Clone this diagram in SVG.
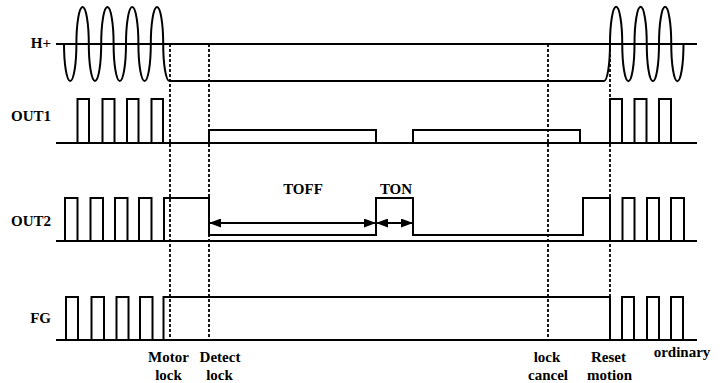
<svg xmlns="http://www.w3.org/2000/svg" width="725" height="383" viewBox="0 0 725 383">
<style>
.sig{fill:none;stroke:#000;stroke-width:2;stroke-linejoin:miter}
.axis{fill:none;stroke:#000;stroke-width:2}
.dash{fill:none;stroke:#000;stroke-width:1.8;stroke-dasharray:3 2}
.arr{fill:none;stroke:#000;stroke-width:2;marker-start:url(#ah);marker-end:url(#ah)}
text{font-family:"Liberation Serif","Times New Roman",serif;font-weight:bold;font-size:15px;fill:#000}
.lbl{text-anchor:end}
.mid{text-anchor:middle}
</style>
<defs>
<marker id="ah" markerUnits="userSpaceOnUse" markerWidth="12" markerHeight="9" refX="12" refY="4.5" orient="auto-start-reverse">
<path d="M0 0 L12 4.5 L0 9 Z" fill="#000"/>
</marker>
</defs>
<rect width="725" height="383" fill="#fff"/>

<g id="dashed-markers">
<line class="dash" x1="170" y1="44" x2="170" y2="340"/>
<line class="dash" x1="209" y1="44" x2="209" y2="340"/>
<line class="dash" x1="548" y1="44" x2="548" y2="340"/>
<line class="dash" x1="610" y1="44" x2="610" y2="340"/>
</g>

<g id="H">
<text class="lbl" x="51" y="47.5">H+</text>
<line class="axis" x1="56" y1="44" x2="697" y2="44"/>
<path class="sig" d="M64 44 A6.2 37 0 0 0 76.4 44 A6.2 37 0 0 1 88.8 44 A6.2 37 0 0 0 101.2 44 A6.2 37 0 0 1 113.6 44 A6.2 37 0 0 0 126 44 A6.2 37 0 0 1 138.4 44 A6.2 37 0 0 0 150.8 44 A6.2 37 0 0 1 163.2 44 A6.2 37 0 0 0 169.4 81 H604 A6 37 0 0 0 610 44 A6.1 37 0 0 1 622.25 44 A6.1 37 0 0 0 634.5 44 A6.1 37 0 0 1 646.75 44 A6.1 37 0 0 0 659 44 A6.1 37 0 0 1 671.25 44 A6.1 37 0 0 0 683.5 44"/>
</g>

<g id="OUT1">
<text class="lbl" x="51" y="120.5">OUT1</text>
<line class="axis" x1="56" y1="143" x2="697" y2="143"/>
<path class="sig" d="M56 143 H77.5 V99 H89 V143 H102.5 V99 H114.5 V143 H127 V99 H138.5 V143 H151.5 V99 H163 V143 H209 V130 H376 V143 H413 V130 H580 V143 H610 V99 H622 V143 H634.5 V99 H646.5 V143 H659 V99 H671 V143 H697"/>
</g>

<g id="OUT2">
<text class="lbl" x="51" y="225.5">OUT2</text>
<line class="axis" x1="56" y1="241" x2="697" y2="241"/>
<path class="sig" d="M56 241 H65 V198 H77.5 V241 H90.5 V198 H103 V241 H115 V198 H127.5 V241 H139 V198 H151.5 V241 H164 V198 H209 V235 H376 V198 H413 V235 H583 V198 H610 V241 H622.5 V198 H634.5 V241 H647 V198 H659 V241 H671 V198 H684 V241 H697"/>
</g>

<g id="FG">
<text class="lbl" x="51" y="322.5">FG</text>
<line class="axis" x1="56" y1="340" x2="697" y2="340"/>
<path class="sig" d="M56 340 H66 V297 H78 V340 H91.5 V297 H104 V340 H116.5 V297 H128.5 V340 H140 V297 H152.5 V340 H163.5 V297 H610 V340 H622 V297 H634 V340 H647 V297 H659 V340 H671 V297 H683 V340 H697"/>
</g>

<g id="connectors">
<line class="arr" x1="209" y1="223" x2="376" y2="223"/>
<line class="arr" x1="376" y1="223" x2="413" y2="223"/>
</g>

<g id="timing-labels">
<text class="mid" x="303" y="194">TOFF</text>
<text class="mid" x="396" y="194">TON</text>
<text class="mid" x="168.5" y="362">Motor</text>
<text class="mid" x="168.5" y="379.5">lock</text>
<text class="mid" x="220" y="362">Detect</text>
<text class="mid" x="219.5" y="379.5">lock</text>
<text class="mid" x="547" y="361.5">lock</text>
<text class="mid" x="548" y="379.5">cancel</text>
<text class="mid" x="608.5" y="361.5">Reset</text>
<text class="mid" x="609.5" y="379.5">motion</text>
<text class="mid" x="682" y="357">ordinary</text>
</g>
</svg>
